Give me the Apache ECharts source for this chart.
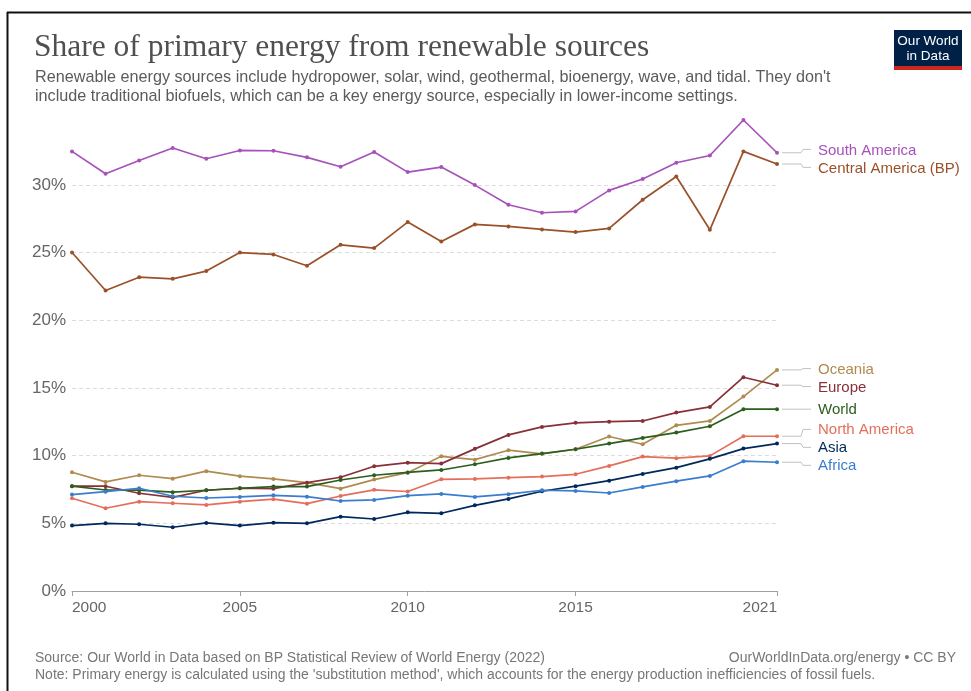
<!DOCTYPE html>
<html>
<head>
<meta charset="utf-8">
<script src="https://cdn.jsdelivr.net/npm/echarts@6/dist/echarts.min.js"></script>
<style>
  html, body { margin: 0; padding: 0; background: #fff; }
  #chart { width: 971px; height: 691px; }
</style>
</head>
<body>
<div id="chart"></div>
<script>
// Years on the horizontal axis
const years = ['2000','2001','2002','2003','2004','2005','2006','2007','2008','2009','2010',
               '2011','2012','2013','2014','2015','2016','2017','2018','2019','2020','2021'];
// Years that carry a tick and a label
const xTickYears = ['2000','2005','2010','2015','2021'];
// Percent gridlines
const yTicks = [0, 5, 10, 15, 20, 25, 30];

// Share of primary energy from renewables, %
const southAmerica = [32.47,30.82,31.80,32.72,31.93,32.54,32.52,32.03,31.34,32.42,30.94,
                      31.31,29.98,28.53,27.94,28.04,29.59,30.43,31.63,32.17,34.79,32.37];
const centralAmerica = [25.00,22.20,23.18,23.06,23.63,25.00,24.86,24.02,25.57,25.33,27.25,
                        25.82,27.08,26.93,26.71,26.51,26.78,28.90,30.62,26.68,32.47,31.54];
const oceania = [8.77,8.06,8.55,8.30,8.85,8.48,8.28,8.00,7.56,8.23,8.74,
                 9.95,9.70,10.40,10.13,10.47,11.41,10.84,12.24,12.56,14.36,16.33];
const europe = [7.74,7.74,7.22,6.92,7.44,7.59,7.56,8.00,8.40,9.21,9.48,
                9.41,10.50,11.53,12.12,12.42,12.51,12.56,13.18,13.60,15.79,15.20];
const world = [7.74,7.46,7.45,7.30,7.44,7.59,7.71,7.71,8.20,8.55,8.76,
               8.94,9.36,9.83,10.15,10.47,10.89,11.31,11.70,12.17,13.43,13.43];
const northAmerica = [6.85,6.11,6.60,6.48,6.36,6.60,6.78,6.45,7.02,7.47,7.35,
                      8.25,8.28,8.37,8.45,8.62,9.24,9.93,9.81,9.98,11.43,11.43];
const asia = [4.83,5.00,4.93,4.71,5.03,4.83,5.05,5.00,5.49,5.32,5.81,
              5.74,6.33,6.80,7.37,7.74,8.15,8.65,9.11,9.76,10.52,10.89];
const africa = [7.12,7.34,7.59,7.00,6.87,6.95,7.07,6.97,6.65,6.73,7.04,
                7.17,6.95,7.15,7.44,7.39,7.24,7.69,8.11,8.50,9.59,9.51];

const seriesNames = ['South America','Central America (BP)','Oceania','Europe','World',
                     'North America','Asia','Africa'];
const seriesValues = [southAmerica, centralAmerica, oceania, europe, world,
                      northAmerica, asia, africa];
const seriesColors = ['#a652ba','#9a5129','#b08b4f','#883039','#2c5e1e',
                      '#e56e5a','#00295b','#3a7dcc'];

const SANS = '"Liberation Sans", Arial, sans-serif';
const chart = echarts.init(document.getElementById('chart'), null, { renderer: 'canvas' });

const lineSeries = seriesNames.map((name, i) => ({
  name: name,
  type: 'line',
  data: seriesValues[i],
  symbol: 'circle',
  symbolSize: 4,
  showSymbol: true,
  lineStyle: { width: 1.7, color: seriesColors[i] },
  itemStyle: { color: seriesColors[i] },
  z: 3,
  silent: true,
  animation: false
}));

// Dashed horizontal gridlines, kept beneath the data lines and off the plot's top edge
const gridSeries = {
  type: 'line',
  data: [],
  z: 1,
  silent: true,
  animation: false,
  markLine: {
    z: 1,
    silent: true,
    symbol: ['none', 'none'],
    label: { show: false },
    lineStyle: { type: [4, 3], color: '#dcdcdc', width: 1 },
    animation: false,
    data: yTicks.slice(1).map(v => ({ yAxis: v }))
  }
};

chart.setOption({
  animation: false,
  title: [
    {
      text: 'Share of primary energy from renewable sources',
      left: 29, top: 27,
      textStyle: { fontFamily: '"Liberation Serif", "DejaVu Serif", serif', fontSize: 31.5,
                   fontWeight: 'normal', color: '#4f4f4f' }
    },
    {
      text: "Renewable energy sources include hydropower, solar, wind, geothermal, bioenergy, wave, and tidal. They don't\ninclude traditional biofuels, which can be a key energy source, especially in lower-income settings.",
      left: 30, top: 63,
      textStyle: { fontFamily: SANS, fontSize: 16.2, lineHeight: 19, color: '#5b5b5b', fontWeight: 'normal' }
    },
    {
      text: 'Source: Our World in Data based on BP Statistical Review of World Energy (2022)',
      left: 30, top: 646,
      textStyle: { fontFamily: SANS, fontSize: 14, color: '#777777', fontWeight: 'normal' }
    },
    {
      text: 'OurWorldInData.org/energy • CC BY',
      right: 10, top: 646,
      textStyle: { fontFamily: SANS, fontSize: 14, color: '#777777', fontWeight: 'normal' }
    },
    {
      text: "Note: Primary energy is calculated using the 'substitution method', which accounts for the energy production inefficiencies of fossil fuels.",
      left: 30, top: 663,
      textStyle: { fontFamily: SANS, fontSize: 14, color: '#777777', fontWeight: 'normal' }
    }
  ],
  grid: { left: 72, right: 194, top: 120, bottom: 100, containLabel: false },
  xAxis: {
    type: 'category',
    data: years,
    boundaryGap: false,
    axisLine: { show: true, lineStyle: { color: '#a0a0a0', width: 1 } },
    axisTick: {
      show: true, length: 5, lineStyle: { color: '#a0a0a0' },
      interval: (idx, val) => xTickYears.includes(val)
    },
    axisLabel: {
      interval: (idx, val) => xTickYears.includes(val),
      margin: 9,
      fontFamily: SANS, fontSize: 15.5, color: '#666666',
      alignMinLabel: 'left', alignMaxLabel: 'right'
    },
    splitLine: { show: false }
  },
  yAxis: {
    type: 'value',
    min: 0,
    max: 'dataMax',
    interval: 5,
    axisLine: { show: false },
    axisTick: { show: false },
    splitLine: { show: false },
    axisLabel: {
      showMaxLabel: false,
      margin: 6,
      fontFamily: SANS, fontSize: 17, color: '#666666',
      formatter: v => (yTicks.includes(v) ? v + '%' : '')
    }
  },
  series: [gridSeries].concat(lineSeries)
});

// Place the end-of-line labels: start at each series' last point and push apart overlaps
function spreadLabels(items, gap) {
  items.sort((a, b) => a.target - b.target);
  let groups = items.map(it => ({ members: [it] }));
  const place = g => {
    const mean = g.members.reduce((s, m) => s + m.target, 0) / g.members.length;
    g.top = mean - (g.members.length - 1) * gap / 2;
    g.bottom = g.top + (g.members.length - 1) * gap;
  };
  groups.forEach(place);
  let merged = true;
  while (merged) {
    merged = false;
    for (let i = 0; i < groups.length - 1; i++) {
      if (groups[i].bottom + gap > groups[i + 1].top) {
        groups[i].members = groups[i].members.concat(groups[i + 1].members);
        groups.splice(i + 1, 1);
        place(groups[i]);
        merged = true;
        break;
      }
    }
  }
  groups.forEach(g => g.members.forEach((m, k) => { m.y = g.top + k * gap; }));
  return items;
}

const lastIdx = years.length - 1;
const ends = seriesNames.map((name, i) => {
  const p = chart.convertToPixel({ seriesIndex: i + 1 }, [lastIdx, seriesValues[i][lastIdx]]);
  return { name: name, color: seriesColors[i], x: p[0], target: p[1] };
});
spreadLabels(ends, 18);

const graphics = [];
ends.forEach(e => {
  graphics.push({
    type: 'polyline', silent: true, z: 5,
    shape: { points: [[e.x + 5, e.target], [e.x + 24, e.target], [e.x + 26, e.y], [e.x + 34, e.y]] },
    style: { stroke: '#c2c2c2', lineWidth: 1, fill: null }
  });
  graphics.push({
    type: 'text', silent: true, z: 5,
    x: e.x + 41, y: e.y + 1,
    style: { text: e.name, fill: e.color, font: '15px ' + SANS, textVerticalAlign: 'middle', textAlign: 'left' }
  });
});

// Publisher badge
graphics.push({ type: 'rect', silent: true, shape: { x: 894, y: 30, width: 68, height: 37 }, style: { fill: '#002147' } });
graphics.push({ type: 'rect', silent: true, shape: { x: 894, y: 66, width: 68, height: 4 }, style: { fill: '#ce261e' } });
graphics.push({ type: 'text', silent: true, x: 928, y: 41,
  style: { text: 'Our World', fill: '#ffffff', font: '13.5px ' + SANS, textAlign: 'center', textVerticalAlign: 'middle' } });
graphics.push({ type: 'text', silent: true, x: 928, y: 56,
  style: { text: 'in Data', fill: '#ffffff', font: '13.5px ' + SANS, textAlign: 'center', textVerticalAlign: 'middle' } });

// Frame lines along the top and left edges
graphics.push({ type: 'line', silent: true, shape: { x1: 7, y1: 12.5, x2: 971, y2: 12.5 }, style: { stroke: '#111', lineWidth: 2 } });
graphics.push({ type: 'line', silent: true, shape: { x1: 7.5, y1: 12, x2: 7.5, y2: 691 }, style: { stroke: '#111', lineWidth: 2 } });

chart.setOption({ graphic: graphics });
</script>
</body>
</html>
